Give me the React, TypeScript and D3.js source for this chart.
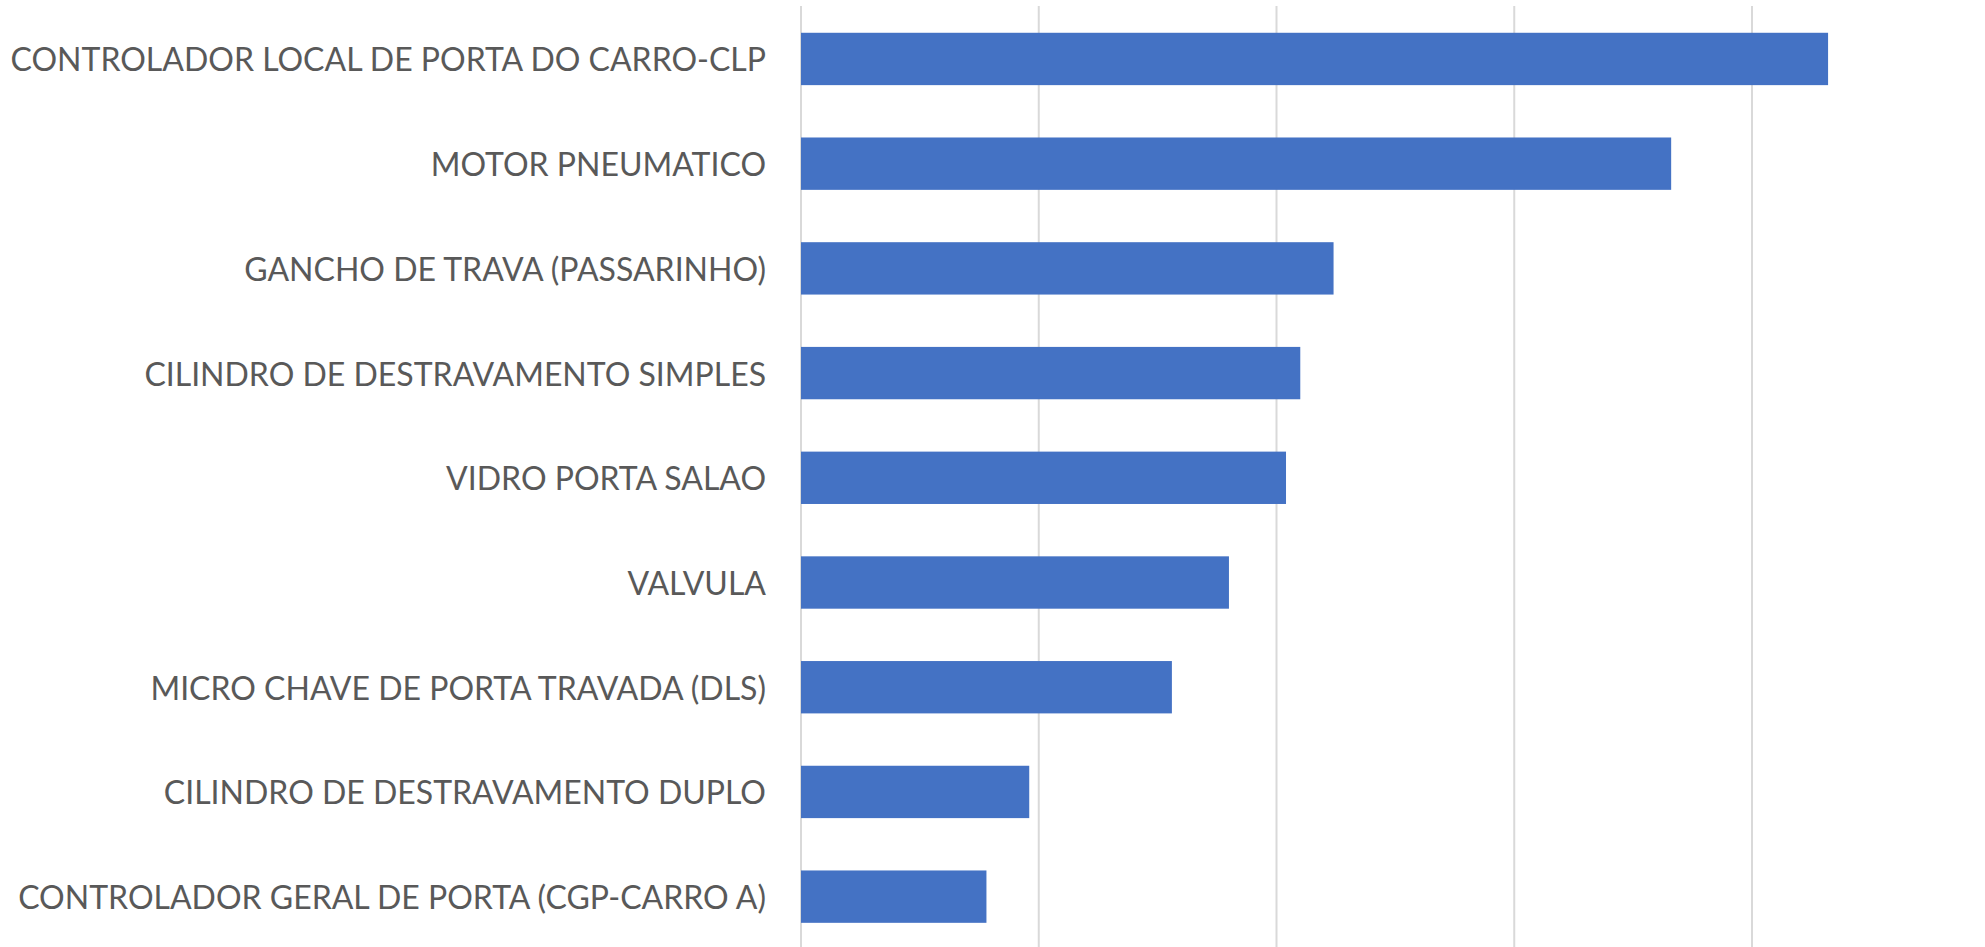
import React from "react";
import * as d3 from "d3";

const categories = [
  "CONTROLADOR LOCAL DE PORTA DO CARRO-CLP",
  "MOTOR PNEUMATICO",
  "GANCHO DE TRAVA (PASSARINHO)",
  "CILINDRO DE DESTRAVAMENTO SIMPLES",
  "VIDRO PORTA SALAO",
  "VALVULA",
  "MICRO CHAVE DE PORTA TRAVADA (DLS)",
  "CILINDRO DE DESTRAVAMENTO DUPLO",
  "CONTROLADOR GERAL DE PORTA (CGP-CARRO A)",
];
const values = [216, 183, 112, 105, 102, 90, 78, 48, 39];
const gridTicks = [0, 50, 100, 150, 200];

const W = 1985;
const H = 947;

export default function App() {
  const x = d3.scaleLinear().domain([0, 250]).range([801, 801 + 237.75 * 5]);
  const y = d3
    .scaleBand<string>()
    .domain(categories)
    .range([6.6, 949])
    .paddingInner(0.5)
    .paddingOuter(0.25);

  return (
    <svg
      width={W}
      height={H}
      style={{ position: "absolute", left: 0, top: 0, background: "#fff" }}
    >
      {gridTicks.map((t) => (
        <line
          key={t}
          x1={x(t)}
          x2={x(t)}
          y1={6}
          y2={H}
          stroke="#d9d9d9"
          strokeWidth={2}
        />
      ))}
      {categories.map((c, i) => (
        <rect
          key={c}
          x={x(0)}
          y={y(c)}
          width={x(values[i]) - x(0)}
          height={y.bandwidth()}
          fill="#4472C4"
        />
      ))}
      {categories.map((c) => (
        <text
          key={c}
          x={766}
          y={(y(c) as number) + y.bandwidth() / 2}
          textAnchor="end"
          dominantBaseline="central"
          fill="#595959"
          fontFamily="Lato, 'Open Sans', sans-serif"
          fontSize={32}
        >
          {c}
        </text>
      ))}
    </svg>
  );
}
